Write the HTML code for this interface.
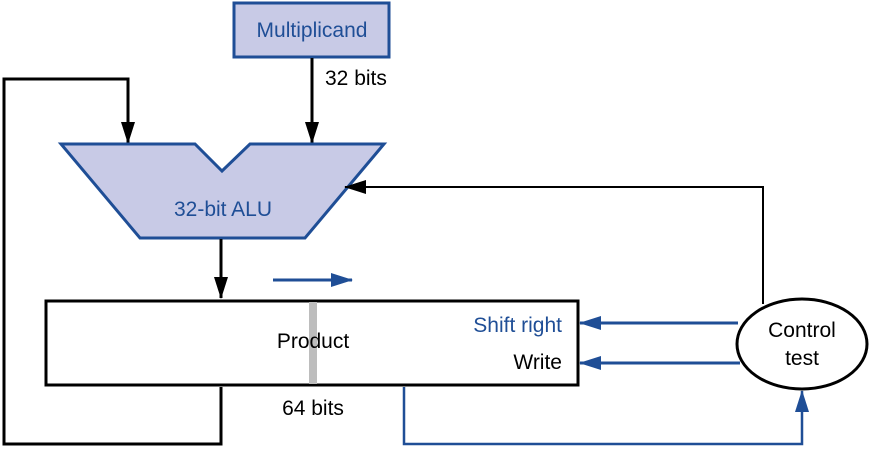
<!DOCTYPE html>
<html><head><meta charset="utf-8"><style>
html,body{margin:0;padding:0;background:#fff;}
svg{display:block;}
text{font-family:"Liberation Sans",Arial,sans-serif;font-size:21px;}
</style></head><body>
<svg width="877" height="449" viewBox="0 0 877 449" xmlns="http://www.w3.org/2000/svg">
<defs>
<marker id="ab" markerWidth="10" markerHeight="10" refX="9" refY="5" orient="auto" markerUnits="userSpaceOnUse"><path d="M0,0 L10,5 L0,10 z" fill="#000"/></marker>
<marker id="abl" markerWidth="22" markerHeight="14" refX="21" refY="7" orient="auto" markerUnits="userSpaceOnUse"><path d="M0,0 L22,7 L0,14 z" fill="#1f4e96"/></marker>
<marker id="ak" markerWidth="22" markerHeight="14" refX="21" refY="7" orient="auto" markerUnits="userSpaceOnUse"><path d="M0,0 L22,7 L0,14 z" fill="#000"/></marker>
</defs>
<rect x="234" y="3" width="155" height="54" fill="#c8cae6" stroke="#1f4e96" stroke-width="3"/>
<text x="312" y="37" text-anchor="middle" fill="#1f4e96">Multiplicand</text>
<text x="325" y="85" fill="#000">32 bits</text>
<line x1="312" y1="58" x2="312" y2="143" stroke="#000" stroke-width="3" marker-end="url(#ak)"/>
<polyline points="221,387 221,444 4,444 4,79 128,79 128,143" fill="none" stroke="#000" stroke-width="3" marker-end="url(#ak)"/>
<polygon points="61,144 195,144 222,171 250,144 384,144 305,238 140,238" fill="#c8cae6" stroke="#1f4e96" stroke-width="3"/>
<text x="223" y="216" text-anchor="middle" fill="#1f4e96">32-bit ALU</text>
<line x1="221" y1="239" x2="221" y2="298" stroke="#000" stroke-width="3" marker-end="url(#ak)"/>
<line x1="273" y1="280" x2="352" y2="280" stroke="#1f4e96" stroke-width="3" marker-end="url(#abl)"/>
<rect x="46" y="301" width="532" height="84" fill="#fff" stroke="#000" stroke-width="3"/>
<rect x="309" y="302" width="8" height="82" fill="#bdbdbd"/>
<text x="313" y="348" text-anchor="middle" fill="#000">Product</text>
<text x="562" y="332" text-anchor="end" fill="#1f4e96">Shift right</text>
<text x="562" y="369" text-anchor="end" fill="#000">Write</text>
<text x="313" y="415" text-anchor="middle" fill="#000">64 bits</text>
<ellipse cx="802" cy="344" rx="65" ry="45" fill="#fff" stroke="#000" stroke-width="3"/>
<text x="802" y="337" text-anchor="middle" fill="#000">Control</text>
<text x="802" y="365" text-anchor="middle" fill="#000">test</text>
<polyline points="763,304 763,187 345,187" fill="none" stroke="#000" stroke-width="2" marker-end="url(#ak)"/>
<line x1="738" y1="323" x2="580" y2="323" stroke="#1f4e96" stroke-width="3" marker-end="url(#abl)"/>
<line x1="740" y1="363" x2="580" y2="363" stroke="#1f4e96" stroke-width="3" marker-end="url(#abl)"/>
<polyline points="404,387 404,444 802,444 802,391" fill="none" stroke="#1f4e96" stroke-width="2.5" marker-end="url(#abl)"/>
</svg>
</body></html>
